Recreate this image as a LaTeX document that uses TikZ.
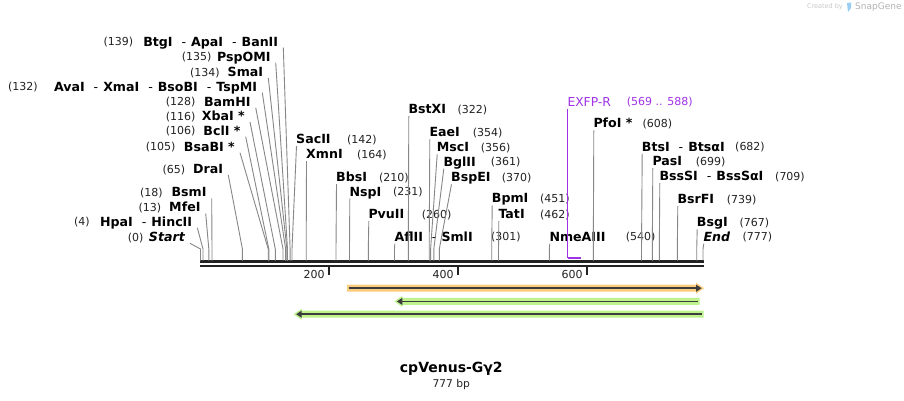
\documentclass[tikz,border=0pt]{standalone}
\usepackage{fontspec}
\setmainfont{DejaVu Sans}
\usetikzlibrary{calc}
\definecolor{numc}{RGB}{34,34,34}
\definecolor{linec}{RGB}{135,135,135}
\definecolor{seqc}{RGB}{34,34,34}
\definecolor{purp}{RGB}{160,50,230}
\definecolor{orangeF}{RGB}{250,204,128}
\definecolor{greenF}{RGB}{190,242,140}
\definecolor{darkF}{RGB}{60,60,60}
\definecolor{wmark}{RGB}{200,200,200}
\definecolor{wblue}{RGB}{150,205,240}
\newcommand\dsep{\hspace{9pt}{\mdseries -}\hspace{5pt}}
\newcommand\LeftSite[7]{%
  \node[num, anchor=west] (k#1) at (#3,#6) {#2};
  \node[lbl, anchor=east] (n#1) at (#5,#6) {#4};
  \coordinate (e#1) at (#7,249);
  \coordinate (s#1) at (#7,260.5);
  \draw[siteline] ($(n#1.east)+(5,6)$) -- (e#1) -- (s#1);}
\newcommand\RightSite[7]{%
  \node[lbl, anchor=west] (n#1) at (#3,#6) {#2};
  \node[num, anchor=west] (k#1) at (#5,#6) {#4};
  \coordinate (e#1) at (#7,249);
  \coordinate (s#1) at (#7,260.5);
  \draw[siteline] ($(n#1.west)+(0.5,7)$) -- (e#1) -- (s#1);}
\newcommand\featR[4]{%
  \fill[#4] (#1,#3-3.5) -- (#2-8,#3-3.5) -- (#2-8,#3-5.6) -- (#2,#3) -- (#2-8,#3+5.6) -- (#2-8,#3+3.5) -- (#1,#3+3.5) -- cycle;
  \draw[darkF, line width=1.8pt] (#1+2,#3) -- (#2-7,#3);
  \fill[darkF] (#2-8,#3-3.6) -- (#2-2.5,#3) -- (#2-8,#3+3.6) -- cycle;}
\newcommand\featL[4]{%
  \fill[#4] (#1,#3-3.5) -- (#2+8,#3-3.5) -- (#2+8,#3-5.6) -- (#2,#3) -- (#2+8,#3+5.6) -- (#2+8,#3+3.5) -- (#1,#3+3.5) -- cycle;
  \draw[darkF, line width=1.8pt] (#1-2,#3) -- (#2+7,#3);
  \fill[darkF] (#2+8,#3-3.6) -- (#2+2.5,#3) -- (#2+8,#3+3.6) -- cycle;}
\begin{document}
\begin{tikzpicture}[x=1pt,y=-1pt,
  lbl/.style={font=\fontsize{12.6}{14}\selectfont\bfseries, inner sep=0pt, text height=9.1pt, text depth=0pt},
  num/.style={font=\fontsize{11}{13}\selectfont, text=numc, inner sep=0pt, text height=8pt, text depth=0pt},
  siteline/.style={draw=linec, line width=0.9pt},
  seqline/.style={draw=seqc, line width=2.6pt},
  tickmark/.style={draw=seqc, line width=2pt},
  ticklbl/.style={font=\fontsize{11}{13}\selectfont, text=numc, inner sep=0pt, text height=8pt, text depth=0pt, anchor=east}]
\useasboundingbox (0,0) rectangle (904,400);
\fill[white] (0,0) rectangle (904,400);

% watermark
\node[font=\fontsize{6.5}{8}\selectfont, text=wmark, anchor=east, inner sep=0pt] (wm1) at (843,7) {Created by};
\fill[wblue] (847,3) -- (851,2.5) -- (851,8) -- (848,12) -- cycle;
\node[font=\fontsize{9}{10}\selectfont, text=wmark!90!black, anchor=west, inner sep=0pt] (wm2) at (855,7) {SnapGene};

% sequence
\coordinate (q1) at (200,261.3);
\coordinate (q2) at (703.5,261.3);
\coordinate (q3) at (200,265.9);
\coordinate (q4) at (703.5,265.9);
\draw[seqline] (q1) -- (q2);
\draw[seqline] (q3) -- (q4);
\foreach \tx/\tl in {328.9/200, 457.7/400, 586.7/600}{
  \coordinate (t\tl) at (\tx,267);
  \draw[tickmark] (t\tl) -- ++(0,7.5);
  \node[ticklbl] (tl\tl) at (\tx-4,274.3) {\tl};
}

% left labels
\LeftSite{BtgI}{(139)}{103.3}{BtgI\dsep ApaI\dsep BanII}{278.3}{41.7}{290.1}
\LeftSite{PspOMI}{(135)}{181.7}{PspOMI}{270.7}{56.7}{287.5}
\LeftSite{SmaI}{(134)}{190}{SmaI}{263.3}{72}{286.9}
\LeftSite{AvaI}{(132)}{8}{AvaI\dsep XmaI\dsep BsoBI\dsep TspMI}{257.3}{86.7}{285.6}
\LeftSite{BamHI}{(128)}{165.7}{BamHI}{250.7}{101.7}{283.0}
\LeftSite{XbaI}{(116)}{165.7}{XbaI *}{245}{116}{275.3}
\LeftSite{BclI}{(106)}{165.7}{BclI *}{240.7}{130.7}{268.8}
\LeftSite{BsaBI}{(105)}{145.7}{BsaBI *}{235}{146.7}{268.2}
\LeftSite{DraI}{(65)}{162.3}{DraI}{223.3}{169}{242.4}
\LeftSite{BsmI}{(18)}{140}{BsmI}{206.7}{192.3}{212.0}
\LeftSite{MfeI}{(13)}{138.3}{MfeI}{200.7}{207.3}{208.8}
\LeftSite{HpaI}{(4)}{74}{HpaI\dsep HincII}{192.3}{221.7}{203.0}
\LeftSite{Start}{(0)}{127.7}{\itshape Start}{185}{237.3}{200.5}

% right labels
\RightSite{SacII}{SacII}{296}{(142)}{347}{139}{292.0}
\RightSite{XmnI}{XmnI}{306}{(164)}{357}{154}{306.2}
\RightSite{BbsI}{BbsI}{336}{(210)}{379}{177}{336}
\RightSite{NspI}{NspI}{349.3}{(231)}{393}{191.7}{349.5}
\RightSite{PvuII}{PvuII}{368.3}{(260)}{421.7}{214}{368.3}
\RightSite{AflII}{AflII\dsep SmlI}{394.3}{(301)}{491}{236.7}{394.5}
\RightSite{BstXI}{BstXI}{408.3}{(322)}{457.3}{109}{408.3}
\RightSite{EaeI}{EaeI}{429.3}{(354)}{472.7}{132.3}{429.2}
\RightSite{MscI}{MscI}{436.7}{(356)}{480.7}{147.3}{430.6}
\RightSite{BglII}{BglII}{443.3}{(361)}{490.7}{161.7}{433.8}
\RightSite{BspEI}{BspEI}{451}{(370)}{501.7}{177.3}{439.3}
\RightSite{BpmI}{BpmI}{491.7}{(451)}{540}{198.3}{491.7}
\RightSite{TatI}{TatI}{498.3}{(462)}{540}{214}{498.5}
\RightSite{NmeAIII}{NmeAIII}{549.3}{(540)}{625.7}{236.7}{549.3}
\RightSite{PfoI}{PfoI *}{593.3}{(608)}{642.3}{123.3}{593.3}
\RightSite{BtsI}{BtsI\dsep BtsαI}{641.7}{(682)}{735}{146.7}{641.5}
\RightSite{PasI}{PasI}{652.3}{(699)}{695.7}{161}{652.3}
\RightSite{BssSI}{BssSI\dsep BssSαI}{659.3}{(709)}{775}{176}{659.3}
\RightSite{BsrFI}{BsrFI}{677.3}{(739)}{726.7}{199}{677.3}
\RightSite{BsgI}{BsgI}{696.7}{(767)}{739.3}{222.3}{696.7}
\RightSite{End}{\itshape End}{703.3}{(777)}{742.3}{236.7}{703}

% primer EXFP-R
\node[font=\fontsize{12.3}{14}\selectfont, text=purp, inner sep=0pt, text height=9pt, text depth=0pt, anchor=west] (nEXFP) at (567.3,101.7) {EXFP-R};
\node[font=\fontsize{11}{13}\selectfont, text=purp, inner sep=0pt, text height=8pt, text depth=0pt, anchor=west] (kEXFP) at (626.7,101.7) {(569 .. 588)};
\coordinate (pA) at (567.5,257.5);
\coordinate (pB) at (580.5,257.5);
\draw[purp, line width=1pt] ($(nEXFP.west)+(0.2,7)$) -- (pA);
\draw[purp, line width=2pt] (pA) -- (pB);

% features
\featR{347}{704}{288.2}{orangeF}
\featL{699.5}{394.4}{301.4}{greenF}
\featL{703.5}{293.7}{314.2}{greenF}

% title
\node[font=\fontsize{14}{16}\selectfont\bfseries, inner sep=0pt] (title) at (451.3,369) {cpVenus-Gγ2};
\node[font=\fontsize{10.7}{12}\selectfont, text=numc, inner sep=0pt] (size) at (451.3,384.3) {777 bp};
\end{tikzpicture}
\end{document}
